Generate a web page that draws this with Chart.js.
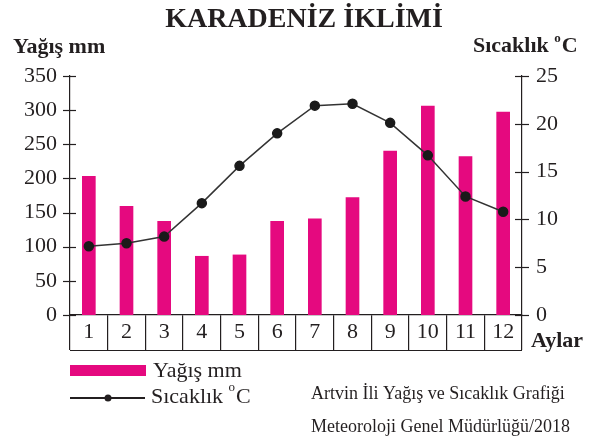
<!DOCTYPE html>
<html>
<head>
<meta charset="utf-8">
<script src="https://cdn.jsdelivr.net/npm/chart.js@4.4.1/dist/chart.umd.min.js"></script>
<style>
  html, body { margin: 0; padding: 0; background: #fff; }
  #wrap { width: 598px; height: 436px; }
</style>
</head>
<body>
<div id="wrap"><canvas id="climateChart" width="598" height="436"></canvas></div>
<script>
const months = ['1', '2', '3', '4', '5', '6', '7', '8', '9', '10', '11', '12'];
const rainfall = [203, 159, 137, 86, 88, 137, 141, 172, 240, 306, 232, 297];
const temperature = [7.2, 7.5, 8.2, 11.7, 15.6, 19.0, 21.9, 22.1, 20.1, 16.7, 12.4, 10.8];
const rainTicks = [0, 50, 100, 150, 200, 250, 300, 350];
const tempTicks = [0, 5, 10, 15, 20, 25];

const serif = 'Liberation Serif';
const ink = '#231f20';
const pink = '#e5097f';

// extra drawing: titles, legend, box under the x axis, crossing tick marks
const decorations = {
    id: 'decorations',
    afterDraw(chart) {
        const ctx = chart.ctx;
        const area = chart.chartArea;
        const yL = chart.scales.y;
        const yR = chart.scales.y1;
        ctx.save();
        ctx.strokeStyle = ink;
        ctx.lineWidth = 1.2;

        // tick marks crossing both y axes
        yL.ticks.forEach(t => {
            const py = Math.round(yL.getPixelForValue(t.value)) + 0.5;
            ctx.beginPath();
            ctx.moveTo(area.left - 7, py);
            ctx.lineTo(area.left + 6, py);
            ctx.stroke();
        });
        yR.ticks.forEach(t => {
            const py = Math.round(yR.getPixelForValue(t.value)) + 0.5;
            ctx.beginPath();
            ctx.moveTo(area.right - 7, py);
            ctx.lineTo(area.right + 7, py);
            ctx.stroke();
        });

        // bottom line of month boxes
        ctx.beginPath();
        ctx.moveTo(area.left, area.bottom + 35.5);
        ctx.lineTo(area.right, area.bottom + 35.5);
        ctx.stroke();

        ctx.fillStyle = ink;
        ctx.textBaseline = 'alphabetic';

        ctx.textAlign = 'center';
        ctx.font = 'bold 28px ' + serif;
        ctx.fillText('KARADENİZ İKLİMİ', 304, 27);

        ctx.textAlign = 'left';
        ctx.font = 'bold 22px ' + serif;
        ctx.fillText('Yağış mm', 13, 53);
        ctx.fillText('Sıcaklık ', 473, 52);
        let w = ctx.measureText('Sıcaklık ').width;
        ctx.font = 'bold 13px ' + serif;
        ctx.fillText('o', 473 + w, 42);
        let w2 = ctx.measureText('o').width;
        ctx.font = 'bold 22px ' + serif;
        ctx.fillText('C', 473 + w + w2 + 1, 52);

        ctx.fillText('Aylar', 531, 347);

        // legend
        ctx.fillStyle = pink;
        ctx.fillRect(70, 365, 76, 11);
        ctx.strokeStyle = ink;
        ctx.lineWidth = 2;
        ctx.beginPath();
        ctx.moveTo(70, 398);
        ctx.lineTo(145, 398);
        ctx.stroke();
        ctx.fillStyle = ink;
        ctx.beginPath();
        ctx.arc(108, 398, 3.5, 0, Math.PI * 2);
        ctx.fill();

        ctx.font = '22px ' + serif;
        ctx.fillText('Yağış mm', 153, 377);
        ctx.fillText('Sıcaklık ', 151, 403);
        w = ctx.measureText('Sıcaklık ').width;
        ctx.font = '13px ' + serif;
        ctx.fillText('o', 151 + w, 391);
        w2 = ctx.measureText('o').width;
        ctx.font = '22px ' + serif;
        ctx.fillText('C', 151 + w + w2 + 1, 403);

        ctx.font = '18px ' + serif;
        ctx.fillText('Artvin İli Yağış ve Sıcaklık Grafiği', 311, 399);
        ctx.fillText('Meteoroloji Genel Müdürlüğü/2018', 311, 432);
        ctx.restore();
    }
};

const data = {
    labels: months,
    datasets: [{
        type: 'line',
        label: 'Sıcaklık °C',
        data: temperature,
        yAxisID: 'y1',
        borderColor: '#333',
        borderWidth: 1.5,
        pointBackgroundColor: '#1a1a1a',
        pointBorderColor: '#1a1a1a',
        pointRadius: 4.5,
        tension: 0,
        order: 1
    }, {
        type: 'bar',
        label: 'Yağış mm',
        data: rainfall,
        yAxisID: 'y',
        backgroundColor: pink,
        barThickness: 13,
        order: 2
    }]
};

const config = {
    data: data,
    options: {
        responsive: false,
        devicePixelRatio: 1,
        animation: false,
        layout: {
            padding: { top: 76, left: 0, right: 0, bottom: 0 }
        },
        scales: {
            x: {
                offset: true,
                grid: {
                    offset: true,
                    drawOnChartArea: false,
                    tickLength: 35,
                    color: ink,
                    lineWidth: 1.2
                },
                border: { color: ink, width: 1.2 },
                ticks: {
                    color: ink,
                    padding: -31,
                    font: { family: serif, size: 22 }
                },
                afterFit(scale) { scale.height = 121; }
            },
            y: {
                position: 'left',
                min: 0,
                max: 350,
                afterBuildTicks(scale) { scale.ticks = rainTicks.map(v => ({ value: v })); },
                grid: { display: false, drawTicks: false },
                border: { color: ink, width: 1.2 },
                ticks: {
                    color: ink,
                    padding: 13,
                    font: { family: serif, size: 22 }
                },
                afterFit(scale) { scale.width = 70; }
            },
            y1: {
                position: 'right',
                min: 0,
                max: 25,
                afterBuildTicks(scale) { scale.ticks = tempTicks.map(v => ({ value: v })); },
                grid: { display: false, drawTicks: false },
                border: { color: ink, width: 1.2 },
                ticks: {
                    color: ink,
                    padding: 14,
                    font: { family: serif, size: 22 }
                },
                afterFit(scale) { scale.width = 76; }
            }
        },
        plugins: {
            legend: { display: false },
            tooltip: { enabled: false }
        }
    },
    plugins: [decorations]
};

const ctx = document.getElementById('climateChart').getContext('2d');
new Chart(ctx, config);
</script>
</body>
</html>
